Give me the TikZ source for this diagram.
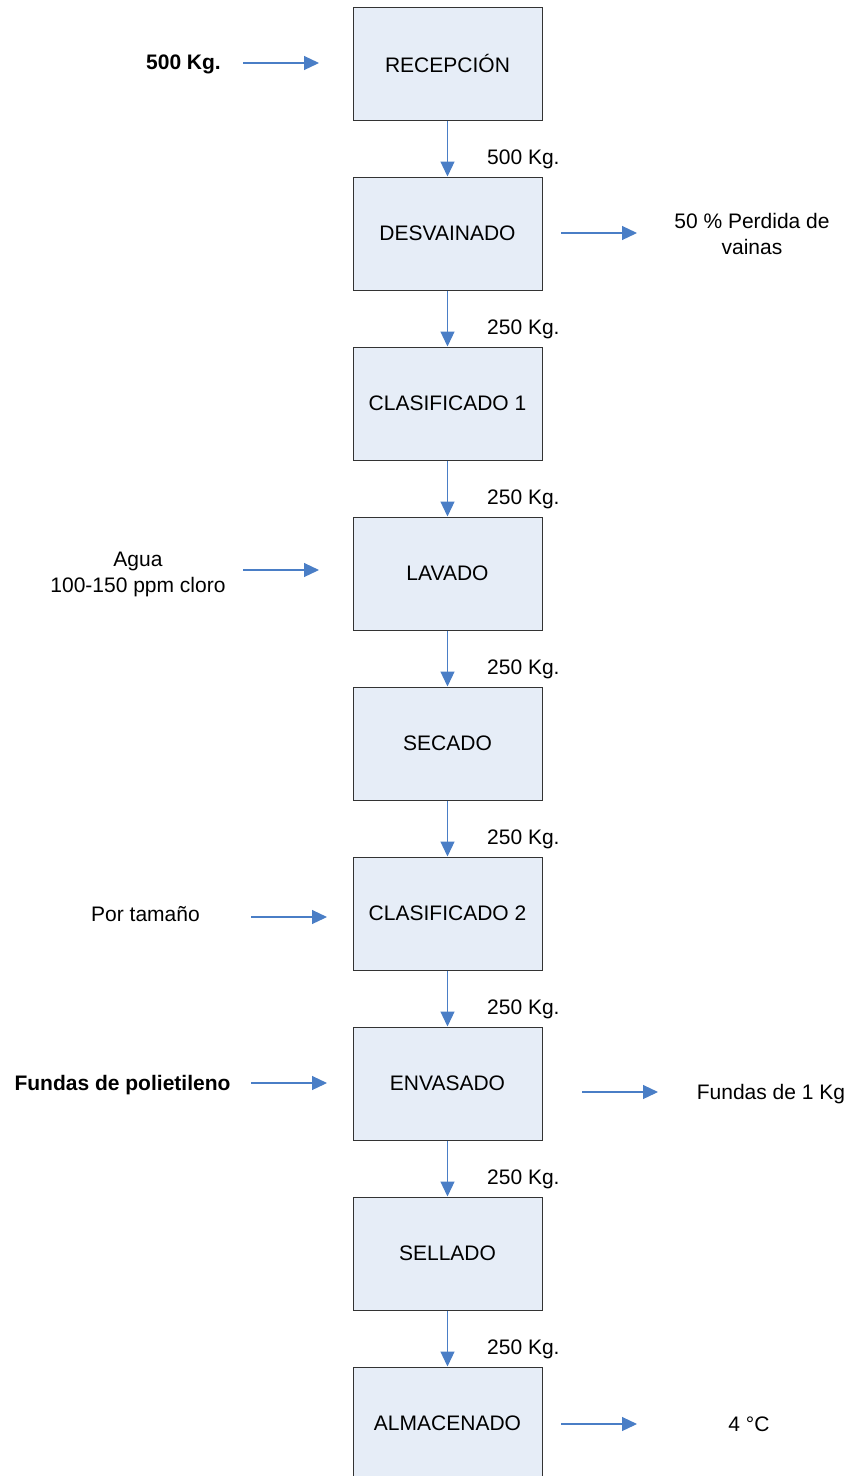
\documentclass[tikz,border=0pt]{standalone}
\usepackage{fontspec}
\setmainfont{Liberation Sans}
\usetikzlibrary{arrows.meta}
\definecolor{flowblue}{HTML}{4A7EC6}
\definecolor{boxfill}{HTML}{E6EDF7}
\definecolor{boxline}{HTML}{333333}
\tikzset{
  stage/.style={draw=boxline, line width=1pt, fill=boxfill, minimum width=189pt,
    minimum height=113pt, inner sep=0pt, font=\fontsize{21}{25}\selectfont},
  flow/.style={draw=flowblue, line width=1.2pt,
    -{Triangle[length=15pt,width=14pt]}},
  note/.style={inner sep=0pt, font=\fontsize{21}{26}\selectfont, align=center},
  bnote/.style={note, font=\fontsize{21}{26}\selectfont\bfseries},
  qty/.style={inner sep=0pt, anchor=west, font=\fontsize{21}{25}\selectfont}
}
\begin{document}
\begin{tikzpicture}[x=1pt,y=-1pt]
\useasboundingbox (0,0) rectangle (851,1476);
\begin{scope}
\clip (0,0) rectangle (851,1476);
% process stages, one every 170pt
\foreach \n/\t [count=\i from 0] in {s1/RECEPCIÓN,s2/DESVAINADO,s3/CLASIFICADO 1,
    s4/LAVADO,s5/SECADO,s6/CLASIFICADO 2,s7/ENVASADO,s8/SELLADO,s9/ALMACENADO}
  \node[stage] (\n) at (447.5,{63.5+170*\i}) {\t};
\end{scope}

% flow between stages with mass labels
\foreach \a/\b/\m [count=\i from 0] in {s1/s2/500,s2/s3/250,s3/s4/250,s4/s5/250,
    s5/s6/250,s6/s7/250,s7/s8/250,s8/s9/250} {
  \draw[flow] (\a.south) -- (\b.north);
  \node[qty] (q\i) at (487,{159+170*\i}) {\m\ Kg.};
}

% inputs on the left
\node[bnote] (in1) at (183.5,64) {500 Kg.};
\coordinate (in1a) at (243,63);
\coordinate (in1b) at (319,63);
\draw[flow] (in1a) -- (in1b);

\node[note] (in2) at (138,574) {Agua\\100-150 ppm cloro};
\coordinate (in2a) at (243,570);
\coordinate (in2b) at (319,570);
\draw[flow] (in2a) -- (in2b);

\node[note] (in3) at (145.5,914) {Por tamaño};
\coordinate (in3a) at (251,917);
\coordinate (in3b) at (327,917);
\draw[flow] (in3a) -- (in3b);

\node[bnote] (in4) at (122.5,1085) {Fundas de polietileno};
\coordinate (in4a) at (251,1083);
\coordinate (in4b) at (327,1083);
\draw[flow] (in4a) -- (in4b);

% outputs on the right
\coordinate (out1a) at (561,233);
\coordinate (out1b) at (637,233);
\draw[flow] (out1a) -- (out1b);
\node[note] (out1) at (752,234) {50 \% Perdida de\\vainas};

\coordinate (out2a) at (582,1092);
\coordinate (out2b) at (658,1092);
\draw[flow] (out2a) -- (out2b);
\node[note] (out2) at (771,1094) {Fundas de 1 Kg};

\coordinate (out3a) at (561,1424);
\coordinate (out3b) at (637,1424);
\draw[flow] (out3a) -- (out3b);
\node[note] (out3) at (749,1424) {4 °C};
\end{tikzpicture}
\end{document}
